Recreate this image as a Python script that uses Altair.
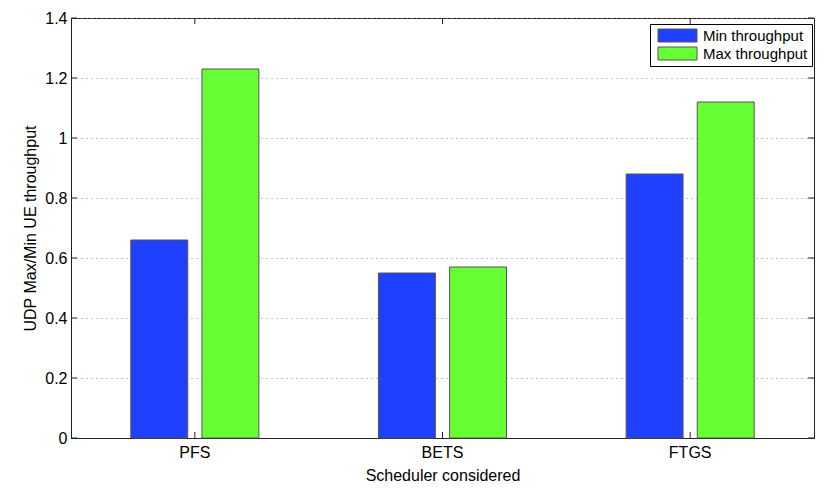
import altair as alt
import pandas as pd

schedulers = ["PFS", "BETS", "FTGS"]
min_throughput = [0.66, 0.55, 0.88]
max_throughput = [1.23, 0.57, 1.12]
series = ["Min throughput", "Max throughput"]
y_ticks = [0, 0.2, 0.4, 0.6, 0.8, 1.0, 1.2, 1.4]

rows = []
for s, mn, mx in zip(schedulers, min_throughput, max_throughput):
    rows.append({"Scheduler": s, "Series": series[0], "Value": mn})
    rows.append({"Scheduler": s, "Series": series[1], "Value": mx})
df = pd.DataFrame(rows)
tick_df = pd.DataFrame({"Value": y_ticks})
sched_df = pd.DataFrame({"Scheduler": schedulers})

W, H = 743, 420
x_scale = alt.Scale(domain=schedulers, paddingInner=0.483, paddingOuter=0.2415)
y_scale = alt.Scale(domain=[0, 1.4], nice=False, zero=True)
AX = "#222222"

x_axis = alt.Axis(title="Scheduler considered", labelAngle=0, ticks=False,
                  labelPadding=6, titlePadding=7, domainColor=AX)
y_axis = alt.Axis(title="UDP Max/Min UE throughput", values=y_ticks, format="~g",
                  ticks=False, grid=True, gridDash=[1, 4], gridColor="#888888",
                  gridWidth=1, labelPadding=4, titlePadding=6, domainColor=AX)

X = alt.X("Scheduler:N", scale=x_scale, sort=schedulers, axis=x_axis,
          title="Scheduler considered")
Y = alt.Y("Value:Q", scale=y_scale, axis=y_axis, title="UDP Max/Min UE throughput")

bars = alt.Chart(df).mark_bar(stroke="#555555", strokeWidth=1).encode(
    x=X,
    xOffset=alt.XOffset("Series:N", sort=series,
                        scale=alt.Scale(paddingInner=0.2, paddingOuter=0)),
    y=Y,
    color=alt.Color("Series:N", sort=series,
                    scale=alt.Scale(domain=series, range=["#2040ff", "#66ff33"]),
                    legend=alt.Legend(title=None, orient="none", legendX=579, legendY=6,
                                      direction="vertical",
                                      symbolType="M-3,-1L3,-1L3,1L-3,1Z", symbolSize=169,
                                      symbolOffset=16, labelOffset=18,
                                      symbolStrokeColor="#555555", symbolStrokeWidth=1,
                                      symbolOpacity=1,
                                      labelFontSize=15, labelColor="black",
                                      padding=4, rowPadding=1,
                                      strokeColor="black", fillColor="white",
                                      cornerRadius=0)),
)

yl = alt.Chart(tick_df).mark_rule(color=AX).encode(
    y=Y, x=alt.value(0), x2=alt.value(6))
yr = alt.Chart(tick_df).mark_rule(color=AX).encode(
    y=Y, x=alt.value(W - 6), x2=alt.value(W))
xb = alt.Chart(sched_df).mark_rule(color=AX).encode(
    x=X, y=alt.value(H), y2=alt.value(H - 6))
xt = alt.Chart(sched_df).mark_rule(color=AX).encode(
    x=X, y=alt.value(0), y2=alt.value(6))

chart = alt.layer(bars, yl, yr, xb, xt).properties(
    width=W, height=H,
    padding={"left": 63, "top": 10, "right": 8, "bottom": 50},
    autosize=alt.AutoSizeParams(type="none"),
).configure(
    font="Liberation Sans",
).configure_axis(
    labelFontSize=16, titleFontSize=16, titleFontWeight="normal",
    labelColor="black", titleColor="black",
).configure_view(
    stroke=AX, strokeWidth=1,
)

chart.save("out.html", embed_options={"renderer": "svg", "actions": False})
